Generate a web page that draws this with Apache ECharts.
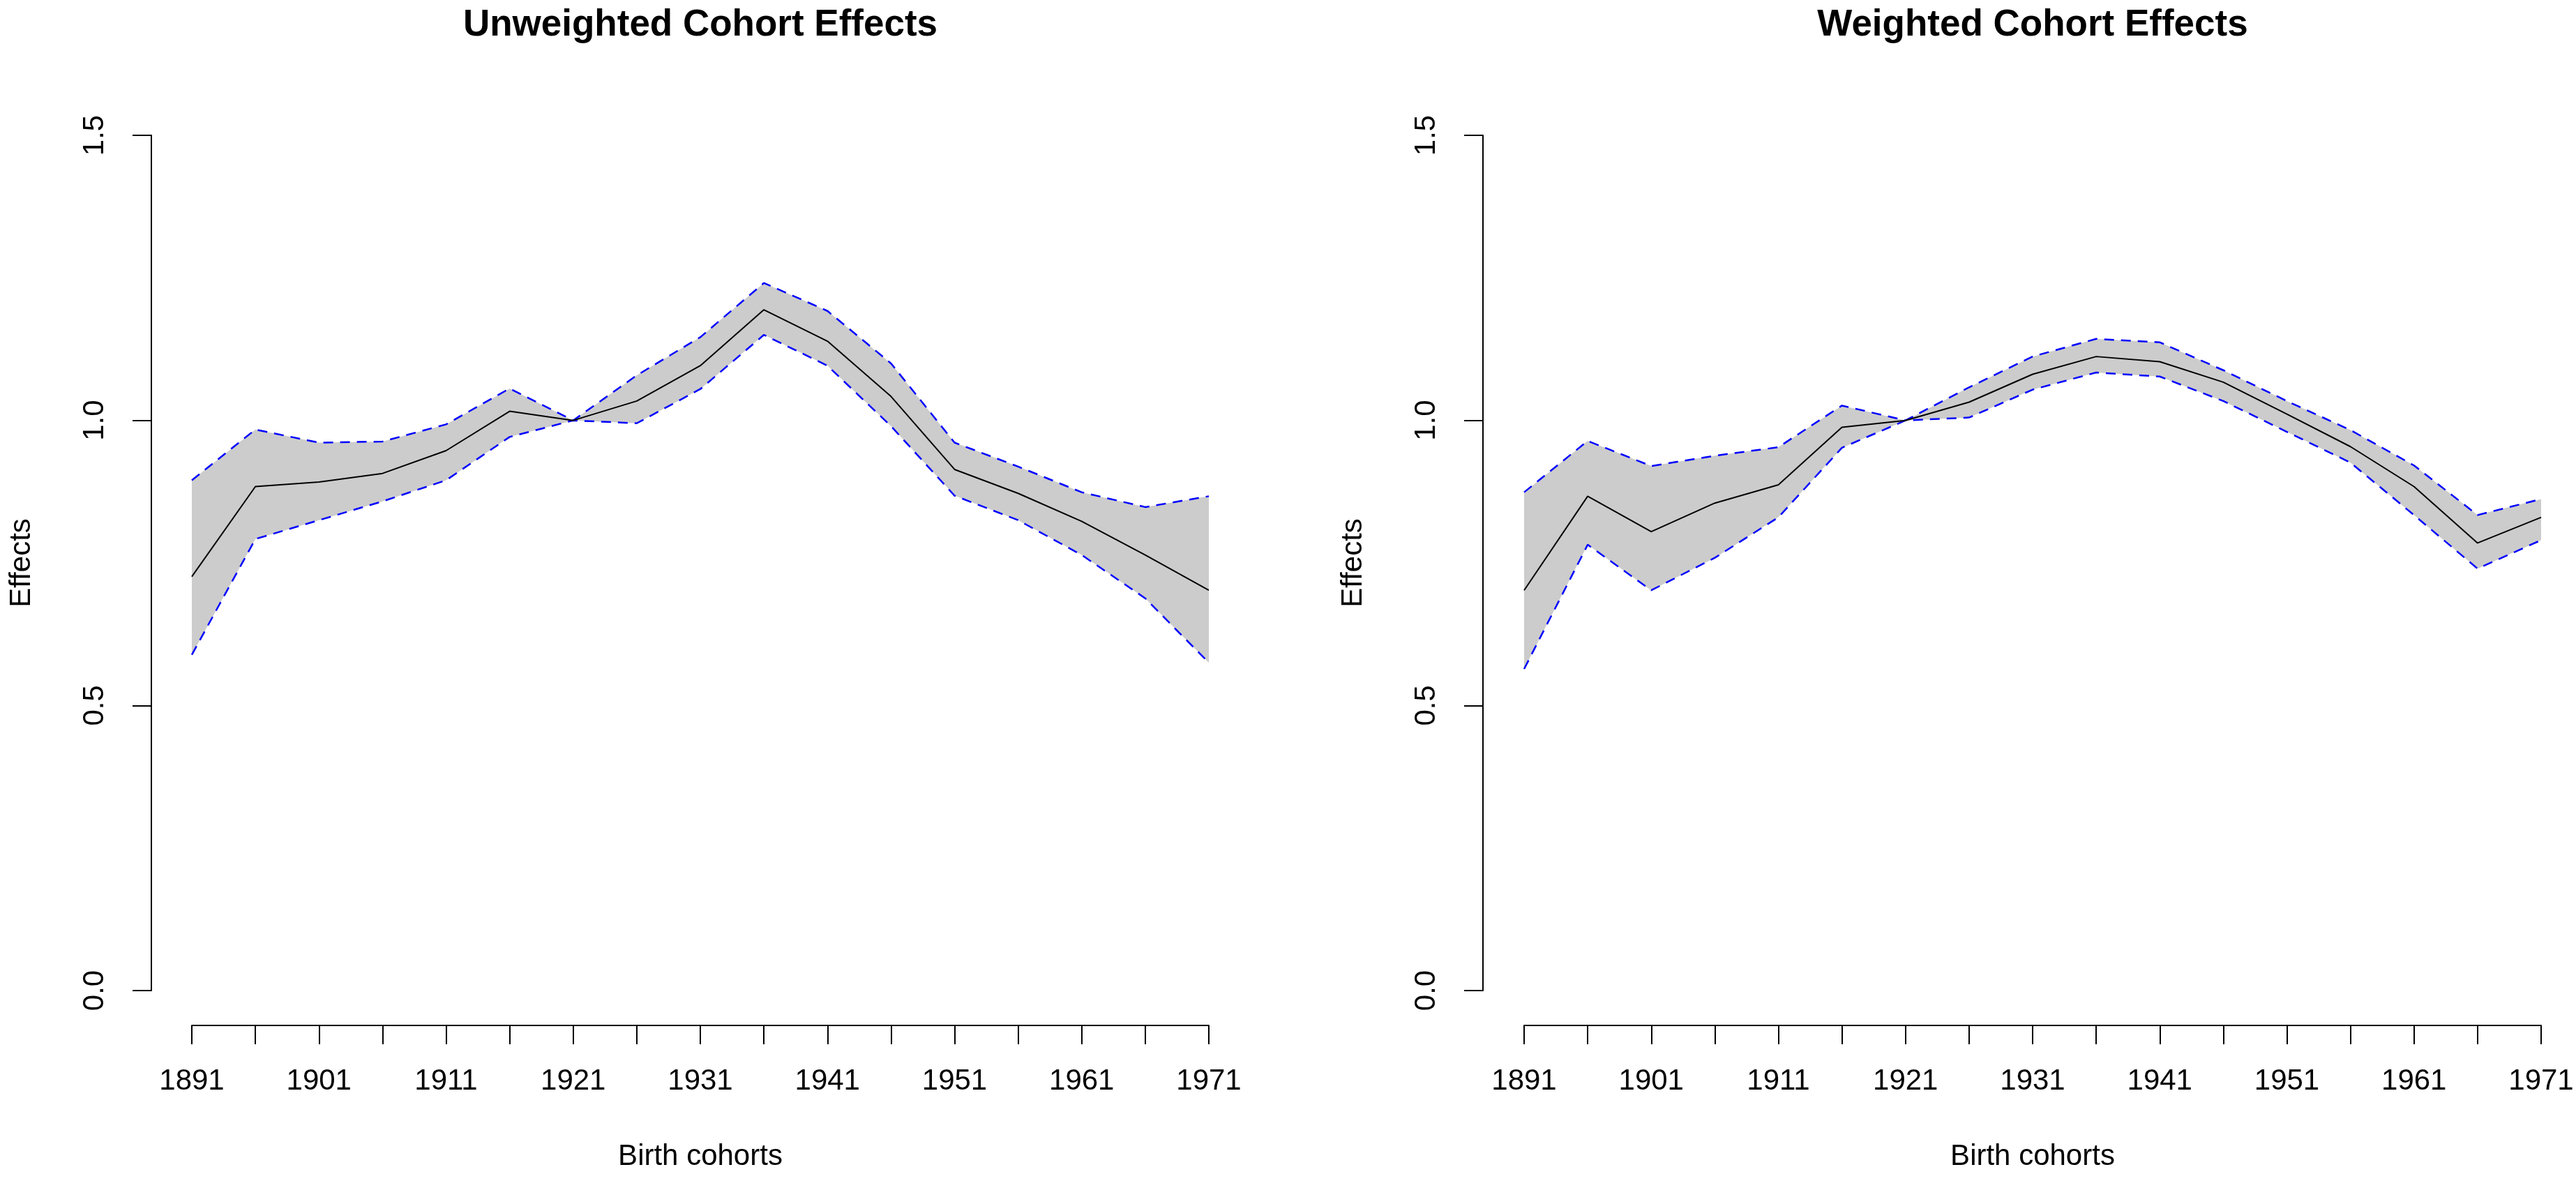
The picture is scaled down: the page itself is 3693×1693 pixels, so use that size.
<!DOCTYPE html>
<html>
<head>
<meta charset="utf-8">
<script src="https://cdn.jsdelivr.net/npm/echarts@6/dist/echarts.min.js"></script>
<style>
html,body{margin:0;padding:0;background:#fff;}
#chart{width:3693px;height:1693px;}
</style>
</head>
<body>
<div id="chart"></div>
<script>
// Birth cohorts (every 5 years)
const cohorts = ['1891','1896','1901','1906','1911','1916','1921','1926','1931','1936','1941','1946','1951','1956','1961','1966','1971'];
const yTicks = [0, 0.5, 1.0, 1.5];

// Unweighted cohort effects
const unweightedEffect = [0.726,0.884,0.892,0.907,0.947,1.016,1.000,1.034,1.096,1.194,1.139,1.042,0.914,0.872,0.823,0.764,0.702];
const unweightedUpper  = [0.895,0.984,0.961,0.963,0.993,1.056,1.000,1.079,1.146,1.241,1.192,1.100,0.961,0.919,0.874,0.848,0.867];
const unweightedLower  = [0.589,0.792,0.825,0.858,0.895,0.971,1.000,0.995,1.055,1.150,1.096,0.990,0.868,0.825,0.764,0.688,0.575];

// Weighted cohort effects
const weightedEffect = [0.702,0.867,0.805,0.855,0.887,0.988,1.000,1.032,1.081,1.112,1.103,1.067,1.011,0.954,0.884,0.785,0.830];
const weightedUpper  = [0.874,0.964,0.920,0.938,0.953,1.026,1.000,1.058,1.112,1.143,1.137,1.088,1.034,0.983,0.921,0.834,0.862];
const weightedLower  = [0.564,0.782,0.702,0.759,0.830,0.952,1.000,1.005,1.054,1.084,1.077,1.034,0.980,0.926,0.834,0.740,0.790];

const titles = ['Unweighted Cohort Effects', 'Weighted Cohort Effects'];

const FONT = '"Liberation Sans", Arial, sans-serif';
const axisColor = '#000';

function xAxisDef(gridIndex) {
  return {
    type: 'category', gridIndex: gridIndex, data: cohorts, boundaryGap: false,
    offset: 50,
    axisLine: {show: true, onZero: false, lineStyle: {color: axisColor, width: 2}},
    axisTick: {show: true, interval: 0, length: 27, lineStyle: {color: axisColor, width: 2}},
    axisLabel: {interval: 1, margin: 59, fontSize: 42, color: '#000', fontFamily: FONT},
    splitLine: {show: false},
    name: 'Birth cohorts', nameLocation: 'middle', nameGap: 167,
    nameTextStyle: {fontSize: 42, color: '#000', fontFamily: FONT}
  };
}
function yAxisDef(gridIndex, off) {
  return {
    type: 'value', gridIndex: gridIndex, min: 0, max: 1.5, interval: 0.5,
    offset: off,
    axisLine: {show: true, onZero: false, lineStyle: {color: axisColor, width: 2}},
    axisTick: {show: true, length: 27, lineStyle: {color: axisColor, width: 2}},
    axisLabel: {rotate: 90, margin: 60, fontSize: 42, color: '#000', fontFamily: FONT,
      formatter: v => yTicks.indexOf(v) >= 0 ? v.toFixed(1) : ''},
    splitLine: {show: false},
    name: 'Effects', nameLocation: 'middle', nameRotate: 90, nameGap: 165,
    nameTextStyle: {fontSize: 42, color: '#000', fontFamily: FONT}
  };
}

function panelSeries(idx, eff, up, lo) {
  const diff = up.map((u, i) => +(u - lo[i]).toFixed(4));
  const stackName = 'band' + idx;
  return [
    {type: 'line', xAxisIndex: idx, yAxisIndex: idx, data: lo, stack: stackName,
     symbol: 'none', lineStyle: {opacity: 0}, silent: true, z: 1},
    {type: 'line', xAxisIndex: idx, yAxisIndex: idx, data: diff, stack: stackName,
     symbol: 'none', lineStyle: {opacity: 0}, areaStyle: {color: '#CCCCCC', opacity: 1}, silent: true, z: 1},
    {type: 'line', xAxisIndex: idx, yAxisIndex: idx, data: up, symbol: 'none',
     lineStyle: {color: '#0000FF', width: 2.5, type: [14, 10]}, z: 3},
    {type: 'line', xAxisIndex: idx, yAxisIndex: idx, data: lo, symbol: 'none',
     lineStyle: {color: '#0000FF', width: 2.5, type: [14, 10]}, z: 3},
    {type: 'line', xAxisIndex: idx, yAxisIndex: idx, data: eff, symbol: 'none',
     lineStyle: {color: '#000000', width: 2}, z: 4}
  ];
}

const chart = echarts.init(document.getElementById('chart'), null, {renderer: 'canvas'});
chart.setOption({
  animation: false,
  backgroundColor: '#ffffff',
  grid: [
    {left: 275, right: 1960, top: 194, bottom: 273},
    {left: 2185, right: 50, top: 194, bottom: 273}
  ],
  xAxis: [xAxisDef(0), xAxisDef(1)],
  yAxis: [yAxisDef(0, 58), yAxisDef(1, 59)],
  graphic: [
    {type: 'text', x: 1004, y: 36, style: {text: titles[0], textAlign: 'center', textVerticalAlign: 'middle',
      font: 'bold 53px ' + FONT, fill: '#000'}},
    {type: 'text', x: 2914, y: 36, style: {text: titles[1], textAlign: 'center', textVerticalAlign: 'middle',
      font: 'bold 53px ' + FONT, fill: '#000'}}
  ],
  series: [].concat(
    panelSeries(0, unweightedEffect, unweightedUpper, unweightedLower),
    panelSeries(1, weightedEffect, weightedUpper, weightedLower)
  )
});
</script>
</body>
</html>
